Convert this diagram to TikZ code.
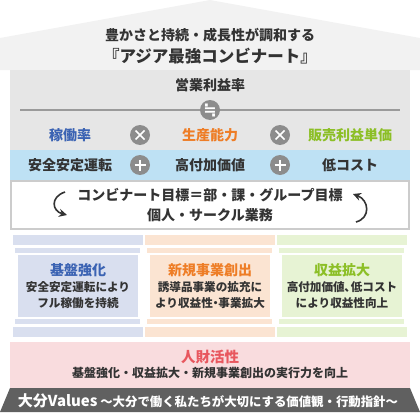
\documentclass[tikz,border=0pt]{standalone}
\usepackage{fontspec}
\setmainfont{Noto Sans CJK JP}
\newfontfamily\dejavu{DejaVu Sans}
\usetikzlibrary{arrows.meta}
\definecolor{roofc}{HTML}{F2F2F2}
\definecolor{grayc}{HTML}{E6E6E6}
\definecolor{bandc}{HTML}{BEE1F4}
\definecolor{txt}{HTML}{333333}
\definecolor{circ}{HTML}{8C8C8C}
\definecolor{linec}{HTML}{9A9A9A}
\definecolor{boxline}{HTML}{CCCCCC}
\definecolor{colA}{HTML}{D9DFEF}
\definecolor{colB}{HTML}{FBE4D2}
\definecolor{colC}{HTML}{E7F3D4}
\definecolor{pinkc}{HTML}{F9DCDE}
\definecolor{darkc}{HTML}{606060}
\definecolor{blueT}{HTML}{3B63B3}
\definecolor{orangeT}{HTML}{EE7D26}
\definecolor{greenT}{HTML}{8CBF26}
\definecolor{redT}{HTML}{E8575E}
\begin{document}
\begin{tikzpicture}[x=1pt,y=-1pt,
  every node/.style={inner sep=0pt, outer sep=0pt, text=txt, font=\bfseries\fontsize{14}{16}\selectfont},
  small/.style={font=\bfseries\fontsize{11.6}{16.5}\selectfont, align=center},
  opc/.style={circle, fill=circ, minimum size=20pt},
  sym/.style={draw=white, line width=1.6pt},
  cyc/.style={txt, line width=1.6pt, -{Stealth[length=8pt,width=8pt]}}]
\useasboundingbox (0,0) rectangle (420,412);
% roof
\fill[roofc] (0,38) -- (210,0) -- (420,38) -- (420,70) -- (0,70) -- cycle;
\node (t1) at (210,35) {豊かさと持続・成長性が調和する};
\node[font=\bfseries\fontsize{16.5}{18}\selectfont] (t2) at (210,56) {『アジア最強コンビナート』};
% gray box
\fill[grayc] (10,70) rectangle (410,150);
\node (op) at (210,85) {営業利益率};
\coordinate (l1) at (20,110);
\coordinate (l2) at (400,110);
\draw[linec, line width=1.6pt] (l1) -- (l2);
\node[opc] (eq) at (210,110) {};
\node[text=white, font=\dejavu\bfseries\fontsize{16}{16}\selectfont] (eqs) at (210,110) {≒};
\node[text=blueT] (k1) at (70,135) {稼働率};
\node[text=orangeT] (k2) at (210,135) {生産能力};
\node[text=greenT] (k3) at (350,135) {販売利益単価};
\node[opc] (x1) at (140,135) {};
\node[opc] (x2) at (280,135) {};
\foreach \c in {x1,x2} {
  \draw[sym] ([shift={(-4.5,-4.5)}]\c.center) -- ([shift={(4.5,4.5)}]\c.center);
  \draw[sym] ([shift={(-4.5,4.5)}]\c.center) -- ([shift={(4.5,-4.5)}]\c.center);
}
% blue band
\fill[bandc] (10,150) rectangle (410,180);
\node (b1) at (70,165) {安全安定運転};
\node (b2) at (210,165) {高付加価値};
\node (b3) at (350,165) {低コスト};
\node[opc] (p1) at (140,165) {};
\node[opc] (p2) at (280,165) {};
\foreach \c in {p1,p2} {
  \draw[sym] ([xshift=-5.5pt]\c.center) -- ([xshift=5.5pt]\c.center);
  \draw[sym] ([yshift=-5.5pt]\c.center) -- ([yshift=5.5pt]\c.center);
}
% white box
\draw[boxline, fill=white, line width=2.2pt] (11.1,181.1) rectangle (408.9,228.9);
\node (g1) at (210,195) {コンビナート目標＝部・課・グループ目標};
\node (g2) at (210,215) {個人・サークル業務};
\coordinate (a1s) at (65,192);
\coordinate (a1e) at (67,215);
\coordinate (a2s) at (356,222);
\coordinate (a2e) at (353,194);
\draw[cyc] (a1s) .. controls (50,197) and (52,211) .. (a1e);
\draw[cyc] (a2s) .. controls (371,218) and (369,200) .. (a2e);
% columns
\foreach \cx/\cc in {78/colA, 210/colB, 342/colC} {
  \fill[\cc] (\cx-65,235) rectangle (\cx+65,245);
  \fill[\cc] (\cx-63,248) rectangle (\cx+62,253);
  \fill[\cc] (\cx-60,255) rectangle (\cx+60,317);
  \fill[\cc] (\cx-63,319) rectangle (\cx+62,324);
  \fill[\cc] (\cx-65,327) rectangle (\cx+65,337);
}
\node[text=blueT] (c1t) at (78,270) {基盤強化};
\node[small] (c1b) at (78,295) {安全安定運転により\\フル稼働を持続};
\node[text=orangeT] (c2t) at (210,270) {新規事業創出};
\node[small] (c2b) at (210,295) {誘導品事業の拡充に\\より収益性\kern-3pt・\kern-3pt事業拡大};
\node[text=greenT] (c3t) at (342,270) {収益拡大};
\node[small] (c3b) at (342,295) {高付加価値\kern-0.5pt、\kern-5pt低コスト\\により収益性向上};
% pink
\fill[pinkc] (10,342) rectangle (410,388);
\node[text=redT, font=\bfseries\fontsize{14.5}{16}\selectfont] (h1) at (210,357) {人財活性};
\node[font=\bfseries\fontsize{12}{14}\selectfont] (h2) at (210,373) {基盤強化・収益拡大・新規事業創出の実行力を向上};
% bottom
\fill[darkc] (10,388) -- (410,388) -- (420,412) -- (0,412) -- cycle;
\node[text=white, font=\bfseries\fontsize{12.4}{14}\selectfont] (v) at (208,400.5) {{\fontsize{15}{16}\selectfont 大分Values} ～大分で働く私たちが大切にする価値観・行動指針～};
\end{tikzpicture}
\end{document}
